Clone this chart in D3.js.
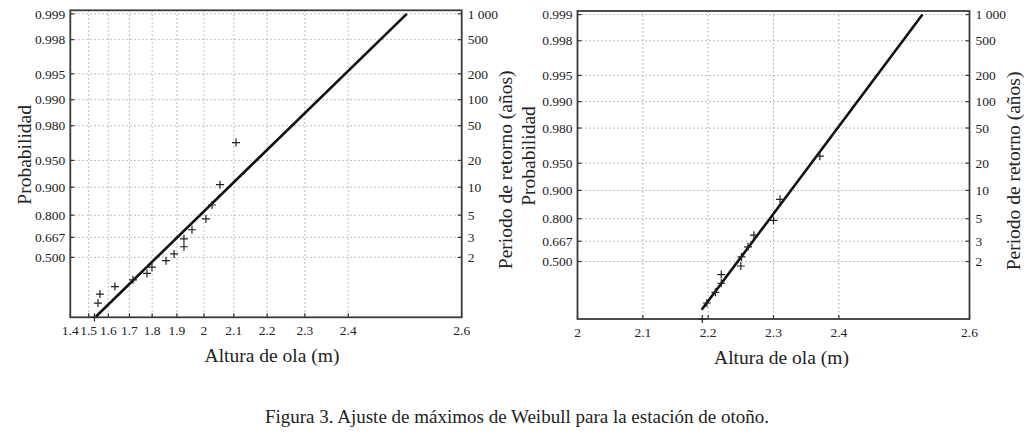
<!DOCTYPE html>
<html><head><meta charset="utf-8">
<script src="https://cdn.jsdelivr.net/npm/d3@7"></script>
<style>
html,body{margin:0;padding:0;background:#fff;}
svg{display:block;}
text{font-family:"Liberation Serif","DejaVu Serif",serif;fill:#222;}
</style></head>
<body>
<svg id="chart" width="1036" height="438"></svg>
<script>
// ---- data ----
const probTicks   = [0.5, 0.667, 0.8, 0.9, 0.95, 0.98, 0.99, 0.995, 0.998, 0.999];
const probLabels  = ["0.500","0.667","0.800","0.900","0.950","0.980","0.990","0.995","0.998","0.999"];
const returnLabels = ["2","3","5","10","20","50","100","200","500","1 000"];

const leftXTicks  = [1.4, 1.5, 1.6, 1.7, 1.8, 1.9, 2.0, 2.1, 2.2, 2.3, 2.4, 2.6];
const leftXLabels = ["1.4","1.5","1.6","1.7","1.8","1.9","2","2.1","2.2","2.3","2.4","2.6"];
const rightXTicks  = [2.0, 2.1, 2.2, 2.3, 2.4, 2.6];
const rightXLabels = ["2","2.1","2.2","2.3","2.4","2.6"];

// upper bound of the (reversed) Weibull used for the left x axis
const leftUpperBound = 3.013;

// autumn maxima, left panel (heights in m, plotting probabilities)
const leftHeights = [1.530, 1.548, 1.558, 1.632, 1.716, 1.778, 1.799, 1.857, 1.889, 1.927, 1.927, 1.957, 2.007, 2.028, 2.055, 2.107];
const leftProbs   = [0.03125, 0.09375, 0.15625, 0.21875, 0.28125, 0.34375, 0.40625, 0.46875, 0.53125, 0.59375, 0.65625, 0.71875, 0.78125, 0.84375, 0.90625, 0.96875];
// right panel
const rightHeights = [2.191, 2.198, 2.211, 2.220, 2.220, 2.250, 2.251, 2.261, 2.270, 2.300, 2.310, 2.371];
const rightProbs   = [0.0417, 0.125, 0.2083, 0.2917, 0.375, 0.4583, 0.5417, 0.625, 0.7083, 0.7917, 0.875, 0.9583];

// fitted lines (end points)
const leftFitHeights  = [1.538, 2.513];
const leftFitProbs    = [0.0336, 0.999];
const rightFitHeights = [2.190, 2.528];
const rightFitProbs   = [0.083, 0.999];

const caption = "Figura 3. Ajuste de máximos de Weibull para la estación de otoño.";

// ---- drawing ----
const svg = d3.select("#chart");
const gumbel = p => -Math.log(-Math.log(p));

function panel(cfg){
  const {x0,x1,y0,y1,xScale,xTicks,xLabels,heights,probs,fitH,fitP,pMin,pMax} = cfg;
  const y = d3.scaleLinear().domain([gumbel(pMin), gumbel(pMax)]).range([y1, y0]);
  const X = h => xScale(h);
  const Y = p => y(gumbel(p));
  const g = svg.append("g");

  // grid
  const grid = g.append("g").attr("stroke","#aaaaaa").attr("stroke-width",1).attr("stroke-dasharray","1.5,2.5");
  grid.selectAll("line.h").data(probTicks).join("line")
    .attr("x1",x0).attr("x2",x1).attr("y1",d=>Y(d)).attr("y2",d=>Y(d));
  grid.selectAll("line.v").data(xTicks.filter(t=>X(t)>x0+2 && X(t)<x1-2)).join("line")
    .attr("x1",d=>X(d)).attr("x2",d=>X(d)).attr("y1",y0).attr("y2",y1);

  // ticks
  const tk = g.append("g").attr("stroke","#333").attr("stroke-width",1.2);
  tk.selectAll("line.l").data(probTicks).join("line")
    .attr("x1",x0).attr("x2",x0+4).attr("y1",d=>Y(d)).attr("y2",d=>Y(d));
  tk.selectAll("line.r").data(probTicks).join("line")
    .attr("x1",x1-4).attr("x2",x1).attr("y1",d=>Y(d)).attr("y2",d=>Y(d));
  tk.selectAll("line.b").data(xTicks).join("line")
    .attr("x1",d=>X(d)).attr("x2",d=>X(d)).attr("y1",y1).attr("y2",y1-4);

  // frame
  g.append("rect").attr("x",x0).attr("y",y0).attr("width",x1-x0).attr("height",y1-y0)
    .attr("fill","none").attr("stroke","#3a3a3a").attr("stroke-width",1.8);

  // tick labels
  g.selectAll("text.yl").data(probTicks).join("text")
    .attr("x",x0-5).attr("y",d=>Y(d)).attr("dy","0.35em").attr("text-anchor","end")
    .attr("font-size",13.5).text((d,i)=>probLabels[i]);
  g.selectAll("text.yr").data(probTicks).join("text")
    .attr("x",x1+6).attr("y",d=>Y(d)).attr("dy","0.35em").attr("text-anchor","start")
    .attr("font-size",13.5).text((d,i)=>returnLabels[i]);
  g.selectAll("text.xl").data(xTicks).join("text")
    .attr("x",d=>X(d)).attr("y",y1+18).attr("text-anchor","middle")
    .attr("font-size",13.5).text((d,i)=>xLabels[i]);

  // axis titles
  const xm = (x0+x1)/2;
  g.append("text").attr("x",xm + cfg.xlabDx).attr("y",y1+45).attr("text-anchor","middle")
    .attr("font-size",19.5).text("Altura de ola (m)");
  g.append("text").attr("transform",`translate(${cfg.ylabX},${(y0+y1)/2-9}) rotate(-90)`)
    .attr("text-anchor","middle").attr("font-size",19.5).text("Probabilidad");
  g.append("text").attr("transform",`translate(${cfg.rlabX},${(y0+y1)/2+6}) rotate(-90)`)
    .attr("text-anchor","middle").attr("font-size",19.5).text("Periodo de retorno (años)");

  // fit line
  const fit = fitH.map((h,i)=>[h,fitP[i]]);
  g.append("path").datum(fit)
    .attr("d", d3.line().x(d=>X(d[0])).y(d=>Y(d[1])))
    .attr("fill","none").attr("stroke","#111").attr("stroke-width",2.6);

  // data markers
  const pts = heights.map((h,i)=>[h,probs[i]]);
  const s = 4;
  g.append("g").selectAll("path").data(pts).join("path")
    .attr("d", d=>{const cx=X(d[0]), cy=Y(d[1]); return `M${cx-s},${cy}H${cx+s}M${cx},${cy-s}V${cy+s}`;})
    .attr("stroke","#222").attr("stroke-width",1.2).attr("fill","none");
}

// left panel
{
  const x0=70.3, x1=461.7;
  const sx = d3.scaleLog().domain([leftUpperBound-1.4, leftUpperBound-2.6]).range([x0,x1]);
  panel({x0,x1,y0:10.3,y1:317.3, xScale:h=>sx(leftUpperBound-h),
    xTicks:leftXTicks, xLabels:leftXLabels, heights:leftHeights, probs:leftProbs,
    fitH:leftFitHeights, fitP:leftFitProbs, pMin:0.03125, pMax:0.99909, ylabX:31, rlabX:512, xlabDx:6});
}
// right panel
{
  const x0=577.5, x1=969.5;
  const sx = d3.scaleLinear().domain([2.0,2.6]).range([x0,x1]);
  panel({x0,x1,y0:11,y1:319, xScale:sx,
    xTicks:rightXTicks, xLabels:rightXLabels, heights:rightHeights, probs:rightProbs,
    fitH:rightFitHeights, fitP:rightFitProbs, pMin:0.0417, pMax:0.99909, ylabX:535, rlabX:1020, xlabDx:8});
}

svg.append("text").attr("x",517).attr("y",423).attr("text-anchor","middle")
  .attr("font-size",19).text(caption);
</script>
</body></html>
